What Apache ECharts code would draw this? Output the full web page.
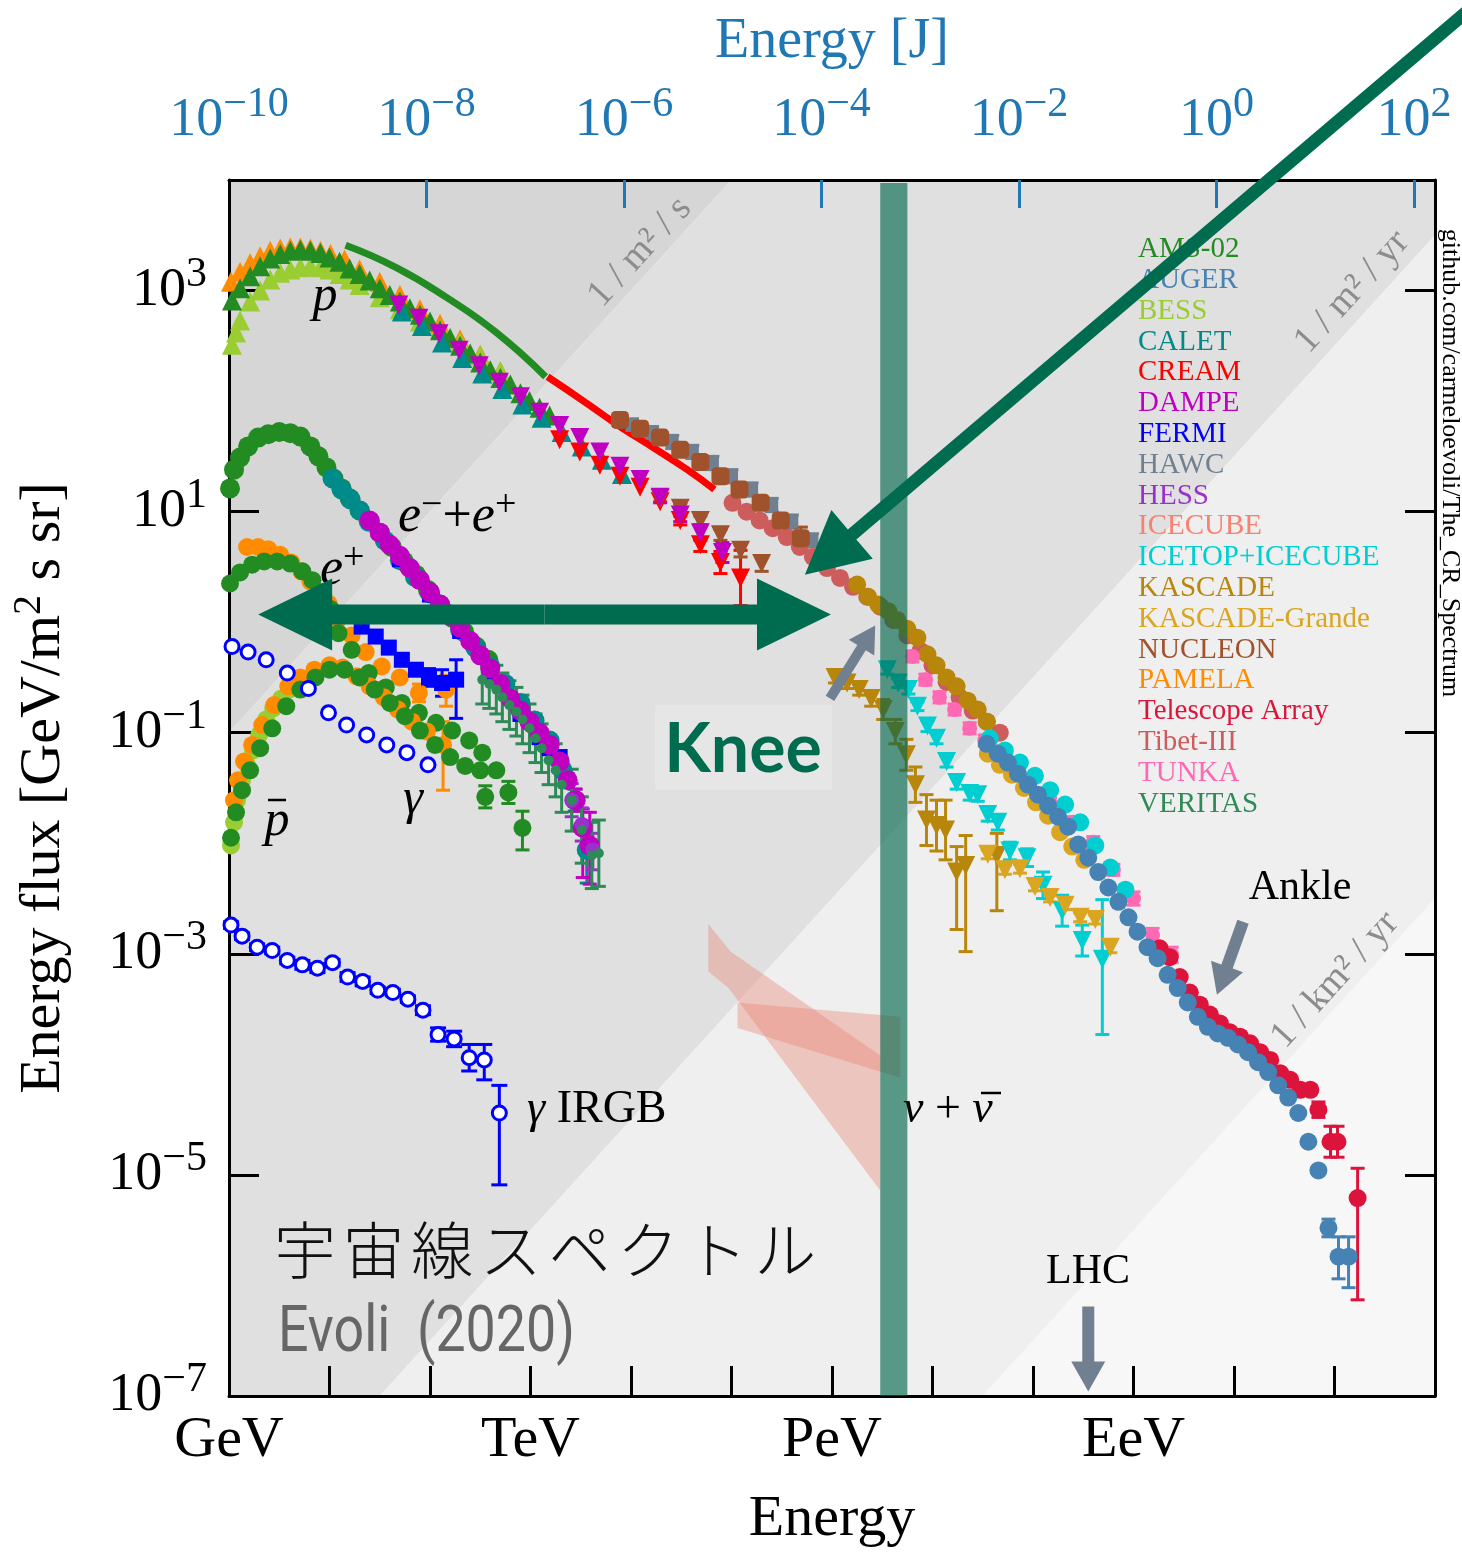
<!DOCTYPE html>
<html><head><meta charset="utf-8">
<script src="https://cdn.jsdelivr.net/npm/echarts@6/dist/echarts.min.js"></script>
<style>html,body{margin:0;padding:0;background:#fff}#c{width:1462px;height:1557px}</style>
</head><body><div id="c"></div>
<script>
// ===== DATA: [log10(E/GeV), log10(E^2 J [GeV/m^2 s sr]), errUp, errDown] =====
const xExtent = [0, 12];
const yExtent = [-7, 4];
const jExtent = [-10, 2.213];
const xTickDecades = [0,1,2,3,4,5,6,7,8,9,10,11,12];
const xLabelDecades = [0,3,6,9];
const xLabelNames = ['GeV','TeV','PeV','EeV'];
const yTickExps = [-7,-5,-3,-1,1,3];
const jTickExps = [-10,-8,-6,-4,-2,0,2];
const fluxLineOffsets = [-1, -8.5, -14.5]; // lgF = lgE + c  (1/m2/s, 1/m2/yr, 1/km2/yr)

// protons
const pamelaP = [[0.02,3.08],[0.11,3.17],[0.21,3.25],[0.31,3.31],[0.41,3.36],[0.51,3.38],[0.61,3.39],[0.71,3.39],[0.81,3.38],[0.91,3.36],[1.01,3.33],[1.15,3.28],[1.30,3.19],[1.50,3.08],[1.70,2.96],[1.90,2.83],[2.10,2.70],[2.30,2.56],[2.50,2.42],[2.70,2.27]];
const bessP = [[0.03,2.51],[0.07,2.62],[0.11,2.73],[0.21,2.90],[0.31,3.00],[0.41,3.10],[0.51,3.16],[0.61,3.19],[0.71,3.21],[0.81,3.22],[0.91,3.21],[1.00,3.19],[1.10,3.15],[1.20,3.10],[1.30,3.05],[1.50,2.94],[1.70,2.83],[1.90,2.72],[2.10,2.66],[2.30,2.53],[2.50,2.41],[2.70,2.27]];
const amsP = [[0.03,2.91],[0.11,3.02],[0.21,3.13],[0.31,3.22],[0.41,3.29],[0.51,3.33],[0.61,3.36],[0.71,3.37],[0.81,3.36],[0.91,3.34],[1.00,3.30],[1.10,3.26],[1.20,3.20],[1.30,3.15],[1.40,3.09],[1.50,3.02],[1.60,2.96],[1.70,2.90],[1.80,2.84],[1.90,2.78],[2.00,2.72],[2.10,2.64],[2.20,2.57],[2.30,2.50],[2.40,2.43],[2.50,2.35],[2.60,2.28],[2.70,2.21],[2.80,2.15],[2.90,2.07],[2.99,2.00],[3.09,1.94],[3.19,1.87]];
const caletP = [[1.72,2.81],[1.92,2.68],[2.12,2.53],[2.32,2.39],[2.52,2.25],[2.72,2.11],[2.92,1.97],[3.11,1.85],[3.31,1.72],[3.51,1.59],[3.71,1.47],[3.91,1.34]];
const creamP = [[3.29,1.65],[3.49,1.54],[3.69,1.42],[3.89,1.32],[4.09,1.22],[4.29,1.09],[4.49,0.92,0.04,0.04],[4.69,0.70,0.06,0.06],[4.89,0.54,0.1,0.1],[5.09,0.40,0.25,0.25]];
const nucleonP = [[4.29,1.12,0.03,0.03],[4.49,1.03,0.04,0.04],[4.69,0.92,0.04,0.04],[4.89,0.79,0.05,0.05],[5.09,0.65,0.06,0.06],[5.30,0.53,0.07,0.07]];
const dampeP = [[1.69,2.87],[1.89,2.75],[2.09,2.61],[2.29,2.46],[2.49,2.32],[2.69,2.17],[2.90,2.04],[3.09,1.90],[3.29,1.78],[3.49,1.67],[3.69,1.54],[3.89,1.41],[4.09,1.29],[4.29,1.13,0.05,0.05],[4.49,0.97,0.06,0.06],[4.69,0.81,0.07,0.07],[4.91,0.63,0.09,0.09]];
const amsLine = [[1.16,3.41],[1.66,3.21],[2.16,2.94],[2.66,2.62],[3.15,2.22]];
const creamLine = [[3.17,2.22],[3.56,1.98],[3.89,1.77],[4.22,1.58],[4.56,1.38],[4.83,1.20]];

// all-particle
const tibetAll = [[5.01,1.08],[5.15,1.00],[5.28,0.92],[5.41,0.85],[5.55,0.77],[5.68,0.68],[5.81,0.59],[5.95,0.49],[6.08,0.40],[6.21,0.32],[6.35,0.23],[6.48,0.14],[6.61,0.02],[6.75,-0.12],[6.88,-0.26],[7.00,-0.39],[7.14,-0.54],[7.27,-0.68],[7.40,-0.80],[7.54,-0.90],[7.67,-1.00]];
const hawcAll = [[4.01,1.78,0.06,0.06],[4.21,1.71,0.06,0.06],[4.41,1.63,0.06,0.06],[4.61,1.54,0.06,0.06],[4.81,1.44,0.06,0.06],[5.00,1.32,0.06,0.06],[5.20,1.20,0.06,0.06],[5.40,1.06,0.06,0.06],[5.60,0.91,0.06,0.06],[5.80,0.74,0.06,0.06]];
const nucleonAll = [[3.89,1.83],[4.09,1.75],[4.29,1.67],[4.49,1.56],[4.69,1.45],[4.89,1.32],[5.08,1.20],[5.29,1.08,0.04,0.04],[5.49,0.92,0.06,0.06],[5.69,0.76,0.1,0.1]];
const kascadeAll = [[6.25,0.34],[6.36,0.23],[6.46,0.16],[6.56,0.10],[6.65,0.02],[6.75,-0.06],[6.85,-0.14],[6.95,-0.29],[7.04,-0.39],[7.14,-0.50],[7.24,-0.58],[7.35,-0.71],[7.45,-0.79],[7.54,-0.90]];
const tunkaAll = [[6.80,-0.31,0.05,0.05],[6.93,-0.52,0.05,0.05],[7.07,-0.68,0.05,0.05],[7.22,-0.79,0.05,0.05],[7.37,-0.96,0.05,0.05],[7.52,-1.07,0.05,0.05],[7.67,-1.17,0.05,0.05],[7.82,-1.29,0.05,0.05],[7.97,-1.45,0.05,0.05],[8.17,-1.64,0.05,0.05],[8.40,-1.81,0.05,0.05],[8.60,-1.99,0.05,0.05],[8.80,-2.24,0.05,0.05],[9.00,-2.50,0.06,0.06],[9.19,-2.83,0.06,0.06],[9.38,-3.01,0.07,0.07]];
const kgAll = [[7.55,-1.19],[7.67,-1.29],[7.79,-1.38],[7.91,-1.50],[8.03,-1.63],[8.15,-1.75],[8.27,-1.90],[8.39,-2.03],[8.51,-2.15]];
const icetopAll = [[7.57,-1.05],[7.72,-1.16],[7.87,-1.27],[8.02,-1.39],[8.17,-1.52],[8.32,-1.65],[8.47,-1.81],[8.62,-2.02],[8.77,-2.22],[8.92,-2.42]];
const taAll = [[9.26,-2.95],[9.36,-3.03],[9.46,-3.21],[9.56,-3.35],[9.66,-3.46],[9.76,-3.55],[9.86,-3.63],[9.96,-3.71],[10.06,-3.75],[10.16,-3.81],[10.26,-3.89],[10.36,-3.96],[10.46,-4.08],[10.56,-4.14],[10.66,-4.23,0.04,0.04],[10.76,-4.23,0.04,0.04],[10.84,-4.41,0.07,0.07],[10.96,-4.70,0.14,0.14],[11.03,-4.70,0.14,0.14],[11.23,-5.21,0.27,0.92]];
const augerAll = [[7.54,-1.10],[7.65,-1.19],[7.75,-1.27],[7.85,-1.37],[7.95,-1.47],[8.05,-1.56],[8.15,-1.66],[8.25,-1.76],[8.35,-1.85],[8.45,-2.01],[8.55,-2.13],[8.65,-2.26],[8.75,-2.40],[8.85,-2.53],[8.95,-2.67],[9.04,-2.80],[9.14,-2.94],[9.24,-3.04],[9.34,-3.19],[9.44,-3.31],[9.54,-3.44],[9.64,-3.57],[9.74,-3.66],[9.84,-3.72],[9.94,-3.76],[10.04,-3.82],[10.14,-3.89],[10.24,-3.98],[10.34,-4.07],[10.44,-4.19],[10.54,-4.30],[10.64,-4.44],[10.74,-4.70],[10.84,-4.96],[10.94,-5.48,0.08,0.08],[11.04,-5.74,0.18,0.2],[11.14,-5.74,0.18,0.28]];

// light component (knee region)
const kascadeP = [[6.03,-0.50,0.05,0.05],[6.15,-0.55,0.05,0.05],[6.27,-0.61,0.05,0.05],[6.39,-0.69,0.07,0.07],[6.51,-0.79,0.09,0.09],[6.63,-0.99,0.11,0.11],[6.74,-1.20,0.14,0.14],[6.83,-1.47,0.16,0.16],[6.94,-1.79,0.23,0.23],[7.04,-1.84,0.23,0.23],[7.13,-1.88,0.27,0.27],[7.24,-2.26,0.23,0.52],[7.33,-2.20,0.27,0.78],[7.64,-2.11,0.2,0.5]];
const icetopP = [[6.55,-0.43,0.04,0.04],[6.66,-0.55,0.04,0.04],[6.76,-0.61,0.04,0.04],[6.85,-0.76,0.04,0.04],[6.95,-0.94,0.05,0.05],[7.04,-1.05,0.05,0.05],[7.14,-1.26,0.05,0.05],[7.24,-1.45,0.06,0.06],[7.37,-1.55,0.06,0.06],[7.45,-1.56,0.06,0.06],[7.55,-1.74,0.06,0.06],[7.65,-1.81,0.07,0.07],[7.77,-2.07,0.08,0.08],[7.94,-2.13,0.08,0.08],[8.10,-2.38,0.12,0.12],[8.29,-2.61,0.14,0.14],[8.49,-2.88,0.14,0.14],[8.69,-3.05,0.54,0.68]];
const kgP = [[7.55,-2.10,0.04,0.04],[7.72,-2.24,0.04,0.04],[7.87,-2.23,0.04,0.04],[8.02,-2.39,0.04,0.04],[8.17,-2.49,0.04,0.04],[8.32,-2.56,0.04,0.04],[8.47,-2.67,0.04,0.04],[8.62,-2.69,0.04,0.04],[8.77,-2.94,0.05,0.05]];

// electrons + positrons
const amsE = [[0.01,1.21],[0.05,1.38],[0.11,1.49],[0.19,1.59],[0.29,1.67],[0.39,1.70],[0.50,1.72],[0.61,1.71],[0.71,1.68],[0.81,1.59],[0.89,1.50],[0.97,1.40],[1.04,1.30],[1.12,1.21],[1.20,1.12],[1.30,1.01],[1.40,0.91],[1.50,0.81],[1.62,0.68],[1.74,0.55],[1.86,0.43],[1.98,0.29],[2.10,0.16],[2.22,0.04],[2.34,-0.09],[2.46,-0.22],[2.58,-0.34]];
const caletE = [[1.03,1.30],[1.12,1.20],[1.21,1.11],[1.30,1.01],[1.39,0.91],[1.55,0.74],[1.70,0.56],[1.85,0.41],[2.00,0.26],[2.15,0.09],[2.30,-0.07],[2.45,-0.23],[2.60,-0.40],[2.75,-0.56],[2.90,-0.73],[3.04,-0.89],[3.19,-1.07],[3.32,-1.34,0.05,0.05],[3.44,-1.61,0.1,0.1],[3.56,-2.06,0.25,0.3]];
const fermiE = [[1.70,0.57],[2.00,0.25],[2.30,-0.08],[2.60,-0.45],[2.90,-0.83],[3.09,-1.04],[3.19,-1.14],[3.29,-1.22]];
const dampeE = [[1.40,0.92],[1.50,0.81],[1.60,0.70],[1.70,0.60],[1.80,0.49],[1.90,0.38],[2.00,0.27],[2.10,0.16],[2.20,0.06],[2.30,-0.05],[2.40,-0.17],[2.50,-0.30],[2.60,-0.42],[2.70,-0.56],[2.80,-0.69],[2.90,-0.80],[2.99,-0.90],[3.09,-1.00],[3.19,-1.11],[3.29,-1.26,0.04,0.04],[3.37,-1.43,0.06,0.06],[3.45,-1.61,0.1,0.1],[3.52,-1.86,0.17,0.45],[3.59,-2.02,0.3,0.35]];
const hessE = [[3.41,-1.61,0.15,0.15],[3.51,-1.83,0.15,0.15],[3.62,-2.06,0.15,0.18]];
const veritasE = [[2.52,-0.52,0.22,0.22],[2.59,-0.56,0.22,0.22],[2.66,-0.61,0.22,0.22],[2.72,-0.68,0.22,0.22],[2.79,-0.75,0.22,0.22],[2.86,-0.81,0.22,0.22],[2.92,-0.88,0.22,0.22],[2.99,-0.96,0.22,0.22],[3.05,-1.05,0.22,0.22],[3.11,-1.14,0.22,0.22],[3.18,-1.25,0.22,0.22],[3.25,-1.34,0.24,0.24],[3.31,-1.47,0.25,0.25],[3.41,-1.61,0.28,0.28],[3.51,-1.88,0.3,0.3],[3.61,-2.11,0.3,0.3],[3.68,-2.09,0.3,0.3]];
const pamelaEp = [[0.18,0.68],[0.29,0.68],[0.39,0.66],[0.51,0.61],[0.62,0.54],[0.72,0.46],[0.81,0.37],[0.90,0.27],[0.99,0.17],[1.08,0.02],[1.22,-0.12],[1.36,-0.27],[1.52,-0.40],[1.70,-0.50],[1.89,-0.64,0.08,0.08],[2.16,-0.61,0.13,0.15]];
const amsEp = [[0.01,0.35],[0.11,0.45],[0.23,0.52],[0.35,0.55],[0.48,0.55],[0.61,0.53],[0.73,0.46],[0.83,0.38],[0.93,0.27],[1.01,0.12],[1.09,-0.10],[1.22,-0.25],[1.39,-0.46],[1.56,-0.59],[1.72,-0.73],[1.89,-0.82],[2.06,-0.91],[2.22,-0.98],[2.39,-1.07],[2.52,-1.18],[2.55,-1.58,0.1,0.1],[2.78,-1.54,0.1,0.1],[2.92,-1.86,0.15,0.2]];
const fermiEp = [[1.32,-0.04],[1.46,-0.13],[1.59,-0.23],[1.72,-0.34],[1.86,-0.43],[1.99,-0.50,0.08,0.08],[2.12,-0.55,0.12,0.12],[2.26,-0.52,0.18,0.35]];

// antiprotons
const bessPbar = [[0.02,-2.02],[0.05,-1.81],[0.08,-1.61],[0.13,-1.43],[0.18,-1.29],[0.24,-1.16],[0.30,-1.02],[0.37,-0.88],[0.44,-0.78],[0.52,-0.69],[0.60,-0.61]];
const pamelaPbar = [[0.05,-1.61],[0.09,-1.43],[0.15,-1.26],[0.23,-1.11],[0.33,-0.93],[0.45,-0.75],[0.59,-0.58],[0.71,-0.50],[0.85,-0.43],[1.00,-0.39],[1.13,-0.41],[1.27,-0.49],[1.40,-0.58],[1.54,-0.68],[1.68,-0.79],[1.82,-0.90],[1.97,-0.99,0.05,0.05],[2.13,-1.11,0.21,0.41]];
const amsPbar = [[0.02,-1.95],[0.07,-1.72],[0.13,-1.52],[0.21,-1.34],[0.31,-1.14],[0.43,-0.96],[0.57,-0.76],[0.71,-0.61],[0.86,-0.50],[1.00,-0.43],[1.15,-0.43],[1.30,-0.50],[1.45,-0.61],[1.60,-0.73],[1.75,-0.85],[1.90,-0.98],[2.05,-1.11],[2.20,-1.22],[2.35,-1.30],[2.50,-1.34],[2.66,-1.34]];

// gamma rays
const fermiGamma = [[0.03,-0.22],[0.19,-0.27],[0.37,-0.34],[0.58,-0.46],[0.79,-0.60],[0.99,-0.82],[1.17,-0.93],[1.37,-1.02],[1.57,-1.11],[1.77,-1.18],[1.98,-1.29]];
const fermiIRGB = [[0.02,-2.74,0.03,0.03],[0.13,-2.84,0.03,0.03],[0.28,-2.94,0.03,0.03],[0.43,-2.97,0.03,0.03],[0.58,-3.06,0.03,0.03],[0.73,-3.10,0.04,0.04],[0.88,-3.13,0.04,0.04],[1.03,-3.08,0.03,0.03],[1.18,-3.21,0.04,0.04],[1.33,-3.25,0.04,0.04],[1.48,-3.33,0.03,0.03],[1.63,-3.35,0.03,0.03],[1.78,-3.41,0.03,0.03],[1.93,-3.51,0.04,0.04],[2.08,-3.73,0.06,0.06],[2.24,-3.77,0.07,0.07],[2.39,-3.94,0.12,0.12],[2.54,-3.96,0.14,0.18],[2.69,-4.44,0.25,0.65]];

// neutrinos (IceCube bands)
const icecubeA = [[4.77,-2.73],[4.99,-2.98],[6.48,-3.92],[6.48,-5.14],[4.97,-3.31],[4.77,-3.16]];
const icecubeB = [[5.06,-3.44],[6.68,-3.57],[6.68,-4.12],[5.06,-3.67]];

// annotations (data coords)
const kneeBand = [6.48, 6.75];
const bigArrow = [[12.65,5.78],[5.73,0.43]];
const spanArrow = [[0.29,0.07],[5.99,0.07]];
const kneeGrey = [[5.98,-0.69],[6.43,-0.03]];
const ankleGrey = [[10.09,-2.71],[9.83,-3.37]];
const lhcGrey = [[8.55,-6.19],[8.55,-6.96]];

const legendNames = ['AMS-02','AUGER','BESS','CALET','CREAM','DAMPE','FERMI','HAWC','HESS','ICECUBE','ICETOP+ICECUBE','KASCADE','KASCADE-Grande','NUCLEON','PAMELA','Telescope Array','Tibet-III','TUNKA','VERITAS'];
const legendColors = ['#228b22','#4682b4','#9acd32','#008b8b','#ff0000','#c000c0','#0000ff','#708090','#9932cc','#fa8072','#00ced1','#b8860b','#daa520','#a0522d','#ff8c00','#dc143c','#cd5c5c','#ff69b4','#2e8b57'];

// ===== RENDER =====
const SERIF = "'Liberation Serif','DejaVu Serif',serif";
const BLUE = '#1f77b4';
const GREEN = '#006c4f';
const GREY = '#708090';
const COL = {}; legendNames.forEach((n,i)=>COL[n]=legendColors[i]);
const expStr = v => (v < 0 ? '\u2212' + Math.abs(v) : String(v));
// superscript token: no explicit lineHeight so that the bottom padding enlarges the line box
const richExp = (bs, ss, pad, color) => ({
  b:{fontFamily:SERIF,fontSize:bs,lineHeight:bs,verticalAlign:'bottom',color},
  s:{fontFamily:SERIF,fontSize:ss,verticalAlign:'top',padding:[0,0,pad,0],color}
});

function errRender(color, cap, ew){
  return function(params, api){
    const x=api.value(0), y=api.value(1), up=api.value(2), dn=api.value(3);
    const a=api.coord([x,y+up]), b=api.coord([x,y-dn]); const h=cap/2;
    const st=()=>({stroke:color,lineWidth:ew});
    return {type:'group',children:[
      {type:'line',shape:{x1:a[0],y1:a[1],x2:b[0],y2:b[1]},style:st()},
      {type:'line',shape:{x1:a[0]-h,y1:a[1],x2:a[0]+h,y2:a[1]},style:st()},
      {type:'line',shape:{x1:b[0]-h,y1:b[1],x2:b[0]+h,y2:b[1]},style:st()}]};
  };
}
function pts(name, data, o){
  o = o || {};
  const color = o.color || COL[name];
  const out = [];
  const errs = data.filter(d=>d.length>2);
  if (errs.length) out.push({type:'custom',name,z:2,silent:true,data:errs,encode:{x:0,y:1},renderItem:errRender(o.ecolor||color,o.cap||14,o.ew||3)});
  out.push({type:'scatter',name,z:2,silent:true,data:data.map(d=>[d[0],d[1]]),
    symbol:o.symbol||'circle',symbolSize:o.size||17,symbolRotate:o.rot||0,
    itemStyle:{color:o.fill||color,borderColor:o.border||color,borderWidth:o.bw||0,opacity:1}});
  return out;
}
const TRI = {symbol:'triangle',size:20};
const DTRI = {symbol:'triangle',size:19,rot:180};

function clipHalf(poly, f){
  const out=[];
  for (let i=0;i<poly.length;i++){
    const p=poly[i], q=poly[(i+1)%poly.length], fp=f(p), fq=f(q);
    if (fp>=0) out.push(p);
    if ((fp>=0)!==(fq>=0)){ const t=fp/(fp-fq); out.push([p[0]+t*(q[0]-p[0]),p[1]+t*(q[1]-p[1])]); }
  }
  return out;
}
function arrowPts(p0,p1,sw,hl,hw){
  const dx=p1[0]-p0[0], dy=p1[1]-p0[1], L=Math.hypot(dx,dy), ux=dx/L, uy=dy/L, nx=-uy, ny=ux;
  const bx=p1[0]-ux*hl, by=p1[1]-uy*hl;
  return [[p0[0]+nx*sw/2,p0[1]+ny*sw/2],[bx+nx*sw/2,by+ny*sw/2],[bx+nx*hw,by+ny*hw],[p1[0],p1[1]],
          [bx-nx*hw,by-ny*hw],[bx-nx*sw/2,by-ny*sw/2],[p0[0]-nx*sw/2,p0[1]-ny*sw/2]];
}

const bgColors = ['#d6d6d6','#e0e0e0','#efefef','#f7f7f7'];
const bgSeries = {type:'custom',name:'_bg',z:0,silent:true,data:[[0,0]],renderItem:(p,api)=>{
  const rect=[[xExtent[0],yExtent[0]],[xExtent[1],yExtent[0]],[xExtent[1],yExtent[1]],[xExtent[0],yExtent[1]]];
  const children=[];
  for (let k=0;k<4;k++){
    let poly=rect;
    if (k>0){ const hi=fluxLineOffsets[k-1]; poly=clipHalf(poly,q=>hi-(q[1]-q[0])); }
    if (k<3){ const lo=fluxLineOffsets[k]; poly=clipHalf(poly,q=>(q[1]-q[0])-lo); }
    children.push({type:'polygon',shape:{points:poly.map(q=>api.coord(q))},style:{fill:bgColors[k]}});
  }
  return {type:'group',children};
}};
const nuSeries = {type:'custom',name:'ICECUBE',z:1,silent:true,data:[[5,-3]],renderItem:(p,api)=>({type:'group',children:[
  {type:'polygon',shape:{points:icecubeA.map(q=>api.coord(q))},style:{fill:'rgba(235,128,114,0.38)'}},
  {type:'polygon',shape:{points:icecubeB.map(q=>api.coord(q))},style:{fill:'rgba(235,128,114,0.38)'}}]})};
const kneeSeries = {type:'custom',name:'_knee',z:8,silent:true,data:[[6.6,0]],renderItem:(p,api)=>{
  const a=api.coord([kneeBand[0],yExtent[1]]), b=api.coord([kneeBand[1],yExtent[0]]);
  return {type:'rect',shape:{x:a[0],y:a[1]+3,width:b[0]-a[0],height:b[1]-a[1]-3},style:{fill:'rgba(0,102,74,0.63)'}};
}};
const arrowSeries = {type:'custom',name:'_arrows',z:10,silent:true,data:[[6,0]],renderItem:(p,api)=>{
  const c=q=>api.coord(q), ch=[];
  const poly=(ps,fill)=>ch.push({type:'polygon',shape:{points:ps},style:{fill}});
  poly(arrowPts(c(bigArrow[0]),c(bigArrow[1]),13,62,32),GREEN);
  const mid=[(spanArrow[0][0]+spanArrow[1][0])/2,spanArrow[0][1]];
  poly(arrowPts(c(mid),c(spanArrow[0]),20,74,36),GREEN);
  poly(arrowPts(c(mid),c(spanArrow[1]),20,74,36),GREEN);
  poly(arrowPts(c(kneeGrey[0]),c(kneeGrey[1]),10,26,15),GREY);
  poly(arrowPts(c(ankleGrey[0]),c(ankleGrey[1]),12,30,17),GREY);
  poly(arrowPts(c(lhcGrey[0]),c(lhcGrey[1]),12,30,17),GREY);
  return {type:'group',children:ch};
}};

const series = [bgSeries, nuSeries,
  ...pts('PAMELA', pamelaP, TRI),
  ...pts('BESS', bessP, TRI),
  ...pts('AMS-02', amsP, TRI),
  {type:'line',name:'AMS-02',z:2,silent:true,data:amsLine,smooth:true,symbol:'none',lineStyle:{color:COL['AMS-02'],width:7}},
  {type:'line',name:'CREAM',z:2,silent:true,data:creamLine,smooth:true,symbol:'none',lineStyle:{color:COL['CREAM'],width:7}},
  ...pts('CALET', caletP, TRI),
  ...pts('CREAM', creamP, DTRI),
  ...pts('NUCLEON', nucleonP, DTRI),
  ...pts('DAMPE', dampeP, DTRI),
  ...pts('Tibet-III', tibetAll, {size:18}),
  ...pts('HAWC', hawcAll, {symbol:'rect',size:13}),
  ...pts('NUCLEON', nucleonAll, {symbol:'roundRect',size:18}),
  ...pts('KASCADE', kascadeAll, {size:18}),
  ...pts('TUNKA', tunkaAll, {size:15}),
  ...pts('KASCADE-Grande', kgAll, {size:18}),
  ...pts('ICETOP+ICECUBE', icetopAll, {size:18}),
  ...pts('Telescope Array', taAll, {size:18}),
  ...pts('AUGER', augerAll, {size:18}),
  ...pts('KASCADE', kascadeP, DTRI),
  ...pts('ICETOP+ICECUBE', icetopP, DTRI),
  ...pts('KASCADE-Grande', kgP, DTRI),
  ...pts('AMS-02', amsE, {size:20}),
  ...pts('CALET', caletE, {size:20}),
  ...pts('FERMI', fermiE, {symbol:'rect',size:16}),
  ...pts('DAMPE', dampeE, {size:20}),
  ...pts('HESS', hessE, {size:15}),
  ...pts('VERITAS', veritasE, {size:10}),
  ...pts('PAMELA', pamelaEp, {size:18}),
  ...pts('AMS-02', amsEp, {size:18}),
  ...pts('FERMI', fermiEp, {symbol:'rect',size:16}),
  ...pts('BESS', bessPbar, {size:18}),
  ...pts('PAMELA', pamelaPbar, {size:18}),
  ...pts('AMS-02', amsPbar, {size:18}),
  ...pts('FERMI', fermiGamma, {size:14,fill:'#ffffff',bw:3}),
  ...pts('FERMI', fermiIRGB, {size:14,fill:'#ffffff',bw:3,cap:16}),
  kneeSeries, arrowSeries
];

const supRich = (size, ssize, pad) => ({
  i:{fontFamily:SERIF,fontSize:size,fontStyle:'italic',lineHeight:size,verticalAlign:'bottom',color:'#000'},
  n:{fontFamily:SERIF,fontSize:size,lineHeight:size,verticalAlign:'bottom',color:'#000'},
  s:{fontFamily:SERIF,fontSize:ssize,verticalAlign:'top',padding:[0,0,pad,0],color:'#000'}
});
const T = (x,y,text,o) => ({type:'text',x,y,z:9,silent:true,rotation:(o&&o.rot)||0,scaleX:(o&&o.sx)||1,
  style:Object.assign({text,fill:'#000',fontFamily:SERIF,fontSize:44,align:'center',verticalAlign:'middle'},o&&o.style)});
const R = 0.833;
const jp = '宇宙線スペクトル'.split('');

const graphic = [
  T(325,297,'p',{style:{fontSize:50,fontStyle:'italic'}}),
  T(398,515,'{i|e}{s|\u2212}{n|+}{i|e}{s|+}',{style:{align:'left',rich:supRich(52,38,18)}}),
  T(320,568,'{i|e}{s|+}',{style:{align:'left',rich:supRich(52,38,18)}}),
  T(277,822,'p',{style:{fontSize:50,fontStyle:'italic'}}),
  {type:'line',z:9,silent:true,shape:{x1:268,y1:800,x2:286,y2:800},style:{stroke:'#000',lineWidth:2.5}},
  T(413,800,'γ',{style:{fontSize:50,fontStyle:'italic'}}),
  T(527,1110,'{i|γ}{n| IRGB}',{style:{align:'left',rich:supRich(46,30,0)}}),
  T(903,1110,'{i|ν}{n| + }{i|ν}',{style:{align:'left',rich:supRich(46,30,0)}}),
  {type:'line',z:9,silent:true,shape:{x1:981,y1:1093,x2:1001,y2:1093},style:{stroke:'#000',lineWidth:2.5}},
  T(1300,888,'Ankle',{style:{fontSize:42}}),
  T(1088,1272,'LHC',{style:{fontSize:42}}),
  {type:'rect',z:9,silent:true,shape:{x:655,y:705,width:177,height:85},style:{fill:'rgba(255,255,255,0.2)'}},
  T(743,750,'Knee',{style:{fontSize:68,fontFamily:"Lato,'Open Sans',sans-serif",fontWeight:'bold',fill:GREEN}}),
  ...jp.map((ch,i)=>T(305+68.6*i,1250,ch,{style:{fontSize:62,fontFamily:"'Noto Sans CJK JP',sans-serif",fontWeight:300,fill:'#111'}})),
  T(278,1335,'Evoli  (2020)',{sx:0.84,style:{align:'left',fontSize:64,fontFamily:"'Liberation Sans Narrow','Roboto',sans-serif",fill:'#666'}}),
  T(640,252,'1 / m² / s',{rot:R,style:{fontSize:38,fill:'#8c8c8c'}}),
  T(1352,292,'1 / m² / yr',{rot:R,style:{fontSize:38,fill:'#8c8c8c'}}),
  T(1335,980,'1 / km² / yr',{rot:R,style:{fontSize:38,fill:'#8c8c8c'}}),
  T(1450,463,'github.com/carmeloevoli/The_CR_Spectrum',{rot:-Math.PI/2,style:{fontSize:26}})
];

const option = {
  animation:false,
  backgroundColor:'#ffffff',
  grid:{left:229,top:180,width:1206,height:1216,containLabel:false},
  legend:{orient:'vertical',left:1128,top:230,icon:'none',itemWidth:0,itemHeight:0,itemGap:1.8,selectedMode:false,z:4,
    textStyle:{fontFamily:SERIF,fontSize:29,lineHeight:29},
    data:legendNames.map((n,i)=>({name:n,textStyle:{color:legendColors[i]}}))},
  xAxis:[
    {type:'value',min:xExtent[0],max:xExtent[1],position:'bottom',
     name:'Energy',nameLocation:'middle',nameGap:95,nameTextStyle:{fontFamily:SERIF,fontSize:58,color:'#000'},
     axisLine:{show:true,onZero:false,lineStyle:{color:'#000',width:3}},
     axisTick:{show:true,inside:true,length:30,lineStyle:{color:'#000',width:3},customValues:xTickDecades},
     axisLabel:{show:true,margin:16,customValues:xLabelDecades,formatter:v=>xLabelNames[xLabelDecades.indexOf(v)],fontFamily:SERIF,fontSize:58,color:'#000'},
     splitLine:{show:false}},
    {type:'value',min:jExtent[0],max:jExtent[1],position:'top',
     name:'Energy [J]',nameLocation:'middle',nameGap:110,nameTextStyle:{fontFamily:SERIF,fontSize:56,color:BLUE},
     axisLine:{show:true,onZero:false,lineStyle:{color:'#000',width:3}},
     axisTick:{show:true,inside:true,length:28,lineStyle:{color:BLUE,width:3},customValues:jTickExps.slice(1)},
     axisLabel:{show:true,margin:32,customValues:jTickExps,formatter:v=>'{b|10}{s|'+expStr(v)+'}',rich:richExp(54,42,22,BLUE)},
     splitLine:{show:false}}
  ],
  yAxis:[
    {type:'value',min:yExtent[0],max:yExtent[1],position:'left',
     name:'{a|Energy flux [GeV/m}{s|2}{a| s sr]}',nameLocation:'middle',nameRotate:90,nameGap:156,
     nameTextStyle:{rich:{a:{fontFamily:SERIF,fontSize:58,lineHeight:58,verticalAlign:'bottom',color:'#000'},
                          s:{fontFamily:SERIF,fontSize:40,verticalAlign:'top',padding:[0,0,24,0],color:'#000'}}},
     axisLine:{show:true,onZero:false,lineStyle:{color:'#000',width:3}},
     axisTick:{show:true,inside:true,length:30,lineStyle:{color:'#000',width:3},customValues:yTickExps},
     axisLabel:{show:true,margin:22,padding:[0,0,10,0],customValues:yTickExps,formatter:v=>'{b|10}{s|'+expStr(v)+'}',rich:richExp(54,42,22,'#000')},
     splitLine:{show:false}},
    {type:'value',min:yExtent[0],max:yExtent[1],position:'right',
     axisLine:{show:true,onZero:false,lineStyle:{color:'#000',width:3}},
     axisTick:{show:true,inside:true,length:30,lineStyle:{color:'#000',width:3},customValues:yTickExps},
     axisLabel:{show:false},splitLine:{show:false}}
  ],
  series,
  graphic
};
const chart = echarts.init(document.getElementById('c'));
chart.setOption(option);
</script></body></html>
